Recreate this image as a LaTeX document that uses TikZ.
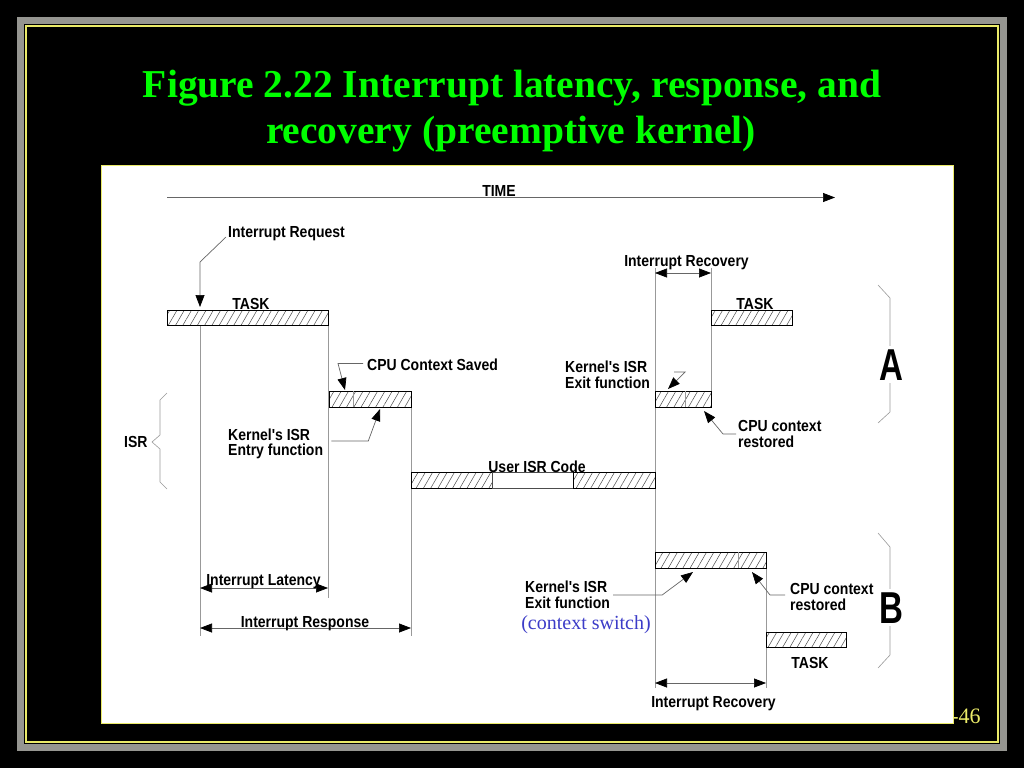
\documentclass[tikz,border=0pt]{standalone}
\usepackage{fontspec}
\usepackage{xcolor}
\usetikzlibrary{arrows.meta,patterns.meta}
\setmainfont{Liberation Serif}
\newfontfamily\diagfont[FakeStretch=0.875]{Liberation Sans}
\newfontfamily\bigfont[FakeStretch=0.74]{Liberation Sans}
\definecolor{titlegreen}{RGB}{0,255,0}
\definecolor{frameyellow}{RGB}{235,235,105}
\definecolor{framegray}{RGB}{150,150,145}
\definecolor{switchblue}{RGB}{60,60,200}

\tikzset{
  bar/.style={draw=black, line width=0.6pt, anchor=north west, inner sep=0pt, outer sep=0pt,
    minimum height=16pt, pattern={Lines[angle=60,distance=6.3pt,line width=0.5pt]}, pattern color=black!70},
  blank/.style={draw=black!70, line width=0.6pt, anchor=north west, inner sep=0pt, outer sep=0pt, minimum height=16pt},
  guide/.style={black!40, line width=0.6pt},
  lead/.style={black!60, line width=0.7pt, -{Triangle[length=12pt,width=9pt,black]}},
  span/.style={black!60, line width=0.7pt, {Triangle[length=12pt,width=9pt,black]}-{Triangle[length=12pt,width=9pt,black]}},
  lbl/.style={font=\diagfont\bfseries\fontsize{16}{15.5}\selectfont, inner sep=0pt, anchor=base west, align=left},
  midlbl/.style={lbl, anchor=base},
  part/.style={font=\bigfont\bfseries\fontsize{44.7}{50}\selectfont, inner sep=3pt, anchor=base, fill=white},
}

\begin{document}
\begin{tikzpicture}[x=1pt,y=-1pt]
  \useasboundingbox (0,0) rectangle (1024,768);
  \fill[black] (0,0) rectangle (1024,768);

  % Slide frame
  \draw[framegray, line width=7pt] (20.5,20.5) rectangle (1003.5,747.5);
  \draw[frameyellow, line width=1.2pt] (26,26) rectangle (998,742);
  \node[anchor=base, text=frameyellow, font=\fontsize{22}{24}\selectfont, inner sep=0pt] (pageno) at (966,723) {-46};

  % Title
  \node[anchor=base, text=titlegreen, font=\bfseries\fontsize{39.5}{46}\selectfont, inner sep=0pt] (title1) at (512,97)
    {Figure 2.22 Interrupt latency, response, and};
  \node[anchor=base, text=titlegreen, font=\bfseries\fontsize{39.5}{46}\selectfont, inner sep=0pt] (title2) at (511,143)
    {recovery (preemptive kernel)};

  % Panel
  \draw[frameyellow, line width=1pt, fill=white] (101,165) rectangle (953,723);

  % Time axis
  \draw[black!60, line width=0.7pt, -{Triangle[length=12pt,width=9pt,black]}] (167,197.5) -- (835,197.5);
  \node[midlbl] (time) at (499,196) {TIME};

  % Guide lines
  \draw[guide] (200,325) -- (200,636);
  \draw[guide] (328,325) -- (328,598);
  \draw[guide] (411,407) -- (411,636);
  \draw[guide] (655,268) -- (655,688);
  \draw[guide] (711,268) -- (711,391);
  \draw[guide] (766,568) -- (766,688);

  % Bars
  \node[bar, minimum width=161pt, minimum height=15pt] (task1) at (167,310) {};
  \node[bar, minimum width=82pt] (ctx) at (329,391) {};
  \node[bar, minimum width=81pt] (usr1) at (411,472) {};
  \node[blank, minimum width=81pt] (usr2) at (492,472) {};
  \node[bar, minimum width=82pt] (usr3) at (573,472) {};
  \node[bar, minimum width=56pt] (exitA) at (655,391) {};
  \node[bar, minimum width=81pt, minimum height=15pt] (task2) at (711,310) {};
  \node[bar, minimum width=111pt] (exitB) at (655,552) {};
  \node[bar, minimum width=80pt, minimum height=15pt] (task3) at (766,632) {};
  \draw[guide] ([xshift=24pt]ctx.north west) -- ([xshift=24pt]ctx.south west);
  \draw[guide] ([xshift=30pt]exitA.north west) -- ([xshift=30pt]exitA.south west);
  \draw[guide] ([xshift=83pt]exitB.north west) -- ([xshift=83pt]exitB.south west);

  % Labels
  \node[midlbl] (tasklbl1) at (251,309) {TASK};
  \node[midlbl] (tasklbl2) at (755,309) {TASK};
  \node[midlbl] (tasklbl3) at (810,668) {TASK};
  \node[midlbl] (usrlbl) at (537,472) {User ISR Code};
  \node[lbl] (isrlbl) at (124,447) {ISR};
  \node[lbl] (ireq) at (228,237) {Interrupt Request};
  \node[lbl] (saved) at (367,370.5) {CPU Context Saved};
  \node[lbl] (entryfn) at (228,455.5) {Kernel's ISR\\Entry function};
  \node[lbl] (exitAfn) at (565,388) {Kernel's ISR\\Exit function};
  \node[lbl] (restA) at (738,447) {CPU context\\restored};
  \node[lbl] (exitBfn) at (525,608) {Kernel's ISR\\Exit function};
  \node[lbl] (restB) at (790,610) {CPU context\\restored};
  \node[anchor=base, text=switchblue, font=\fontsize{20}{22}\selectfont, inner sep=0pt] (cswitch) at (586,629)
    {(context switch)};

  % Leaders
  \coordinate (irqbend) at (200,262);
  \draw[lead] ([xshift=-2pt]ireq.base west) -- (irqbend) -- (200,307);
  \draw[lead] ([xshift=-4pt,yshift=7pt]saved.base west) -- ++(-25,0) -- ([xshift=16pt,yshift=1pt]ctx.north west);
  \draw[lead] ([xshift=8pt,yshift=14.5pt]entryfn.base east) -- ++(37,0) -- ([xshift=51pt,yshift=-2pt]ctx.south west);
  \draw[lead] ([xshift=24pt,yshift=16pt]exitAfn.base east) -- ++(11,0) -- ([xshift=13pt,yshift=2pt]exitA.north west);
  \draw[lead] ([xshift=-2pt,yshift=13pt]restA.base west) -- ++(-13,0) -- ([xshift=-7pt,yshift=-4pt]exitA.south east);
  \draw[lead] ([xshift=3pt,yshift=13pt]exitBfn.base east) -- ++(49,0) -- ([xshift=38pt,yshift=-4pt]exitB.south west);
  \draw[lead] ([xshift=-5pt,yshift=15pt]restB.base west) -- ++(-15,0) -- ([xshift=-14pt,yshift=-4pt]exitB.south east);

  % Spans
  \draw[span] (200,588) -- (328,588);
  \node[midlbl] (latency) at (263.5,585) {Interrupt Latency};
  \draw[span] (200,628) -- (411,628);
  \node[midlbl] (response) at (305,627) {Interrupt Response};
  \draw[span] (655,273) -- (711,273);
  \node[midlbl] (recovA) at (686.5,266) {Interrupt Recovery};
  \draw[span] (655,683) -- (766,683);
  \node[midlbl] (recovB) at (713.5,707) {Interrupt Recovery};

  % Braces
  \draw[guide] (167,393) -- (160,400) -- (160,435) -- (152,442) -- (160,449) -- (160,482) -- (167,489);
  \draw[guide] (878,285) -- (890,298) -- (890,412) -- (878,423);
  \draw[guide] (878,533) -- (890,547) -- (890,655) -- (878,668);
  \node[part] (partA) at (891,380) {A};
  \node[part] (partB) at (891,623) {B};
\end{tikzpicture}
\end{document}
